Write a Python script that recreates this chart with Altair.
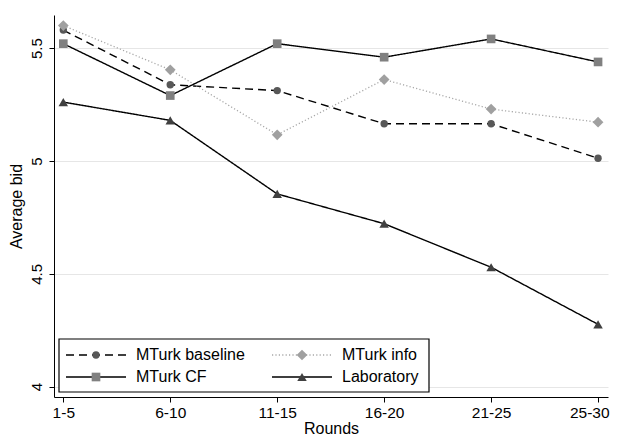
import altair as alt
import pandas as pd

rounds = ["1-5", "6-10", "11-15", "16-20", "21-25", "25-30"]
series = ["MTurk baseline", "MTurk info", "MTurk CF", "Laboratory"]
baseline = [5.58, 5.338, 5.312, 5.165, 5.165, 5.012]
info = [5.60, 5.404, 5.116, 5.361, 5.230, 5.172]
cf = [5.52, 5.290, 5.520, 5.460, 5.541, 5.439]
lab = [5.261, 5.180, 4.854, 4.722, 4.529, 4.276]
y_ticks = [4, 4.5, 5, 5.5]

values = {"MTurk baseline": baseline, "MTurk info": info, "MTurk CF": cf, "Laboratory": lab}

styles = {
    "MTurk baseline": dict(shape="circle", fill="#585858", size=55, line="#000000", dash=[8, 5], sw=1.4),
    "MTurk info": dict(shape="diamond", fill="#a0a0a0", size=115, line="#a8a8a8", dash=[1.2, 2.2], sw=1.3),
    "MTurk CF": dict(shape="square", fill="#808080", size=75, line="#000000", dash=[1, 0], sw=1.4),
    "Laboratory": dict(shape="triangle-up", fill="#404040", size=90, line="#000000", dash=[1, 0], sw=1.4),
}

rows = []
for s in series:
    for i, v in enumerate(values[s]):
        rows.append({"series": s, "idx": i, "value": v})
df = pd.DataFrame(rows)

last = len(rounds) - 1
label_expr = "[" + ",".join("'" + r + "'" for r in rounds) + "][round(datum.value)]"

xs = alt.Scale(domain=[-0.087, 5.093], nice=False, zero=False)
ys = alt.Scale(domain=[3.954, 5.647], nice=False, zero=False)

x_enc = alt.X("idx:Q", scale=xs, axis=alt.Axis(
    values=list(range(len(rounds))), labelExpr=label_expr, title="Rounds",
    grid=False, domainColor="#000", tickColor="#000", tickSize=5, labelFontSize=15.5,
    titleFontSize=16, titleFontWeight="normal", labelColor="#000", titleColor="#000",
    labelPadding=3, titlePadding=0, labelFlush=False,
    labelAlign={"condition": {"test": f"datum.value == {last}", "value": "right"}, "value": "center"},
    labelOffset={"condition": {"test": f"datum.value == {last}", "value": 11}, "value": 0},
    labelFont="Liberation Sans", titleFont="Liberation Sans"))
y_enc = alt.Y("value:Q", scale=ys, axis=alt.Axis(
    values=y_ticks, title="Average bid", grid=True, gridColor="#e6e6e6", gridWidth=1,
    domainColor="#000", tickColor="#000", tickSize=5, labelAngle=270, labelAlign="center",
    labelBaseline="bottom", labelPadding=5, labelFontSize=15, titleFontSize=16,
    titleFontWeight="normal", labelColor="#000", titleColor="#000", titlePadding=5,
    labelFont="Liberation Sans", titleFont="Liberation Sans", labelExpr="datum.value == 4 ? '4' : datum.value == 5 ? '5' : datum.label"))

layers = []
for s in series:
    st = styles[s]
    d = df[df.series == s]
    base = alt.Chart(d)
    ln = base.mark_line(color=st["line"], strokeDash=st["dash"], strokeWidth=st["sw"]).encode(x=x_enc, y=y_enc)
    pt = base.mark_point(shape=st["shape"], filled=True, color=st["fill"], size=st["size"], opacity=1).encode(x=x_enc, y=y_enc)
    layers += [ln, pt]

# legend (pixel positions inside plot area)
box = alt.Chart(pd.DataFrame({"a": [0]})).mark_rect(fill="white", stroke="#000", strokeWidth=1.2).encode(
    x=alt.value(5), x2=alt.value(375), y=alt.value(324), y2=alt.value(377))
layers.append(box)

leg_rows = []
for k, s in enumerate(series):
    col = k % 2
    row = k // 2
    x0 = 12 + col * 206
    yy = 340 + row * 22
    leg_rows.append({"series": s, "x1": x0, "x2": x0 + 60, "xm": x0 + 30, "xt": x0 + 70, "y": yy})
ldf = pd.DataFrame(leg_rows)

for s in series:
    st = styles[s]
    d = ldf[ldf.series == s]
    b = alt.Chart(d)
    layers.append(b.mark_rule(color=st["line"], strokeDash=st["dash"], strokeWidth=st["sw"]).encode(
        x=alt.X("x1:Q", scale=None), x2="x2:Q", y=alt.Y("y:Q", scale=None)))
    layers.append(b.mark_point(shape=st["shape"], filled=True, color=st["fill"], size=st["size"], opacity=1).encode(
        x=alt.X("xm:Q", scale=None), y=alt.Y("y:Q", scale=None)))
    layers.append(b.mark_text(align="left", baseline="middle", fontSize=16, font="Liberation Sans", color="#000").encode(
        x=alt.X("xt:Q", scale=None), y=alt.Y("y:Q", scale=None), text="series:N"))

chart = alt.layer(*layers).properties(
    width=554, height=382,
    padding={"left": 46, "top": 7, "right": 2, "bottom": 39},
    autosize=alt.AutoSizeParams(type="none"),
    background="white",
).configure_view(stroke=None)

chart.save("out.html", embed_options={"renderer": "svg", "actions": False})
